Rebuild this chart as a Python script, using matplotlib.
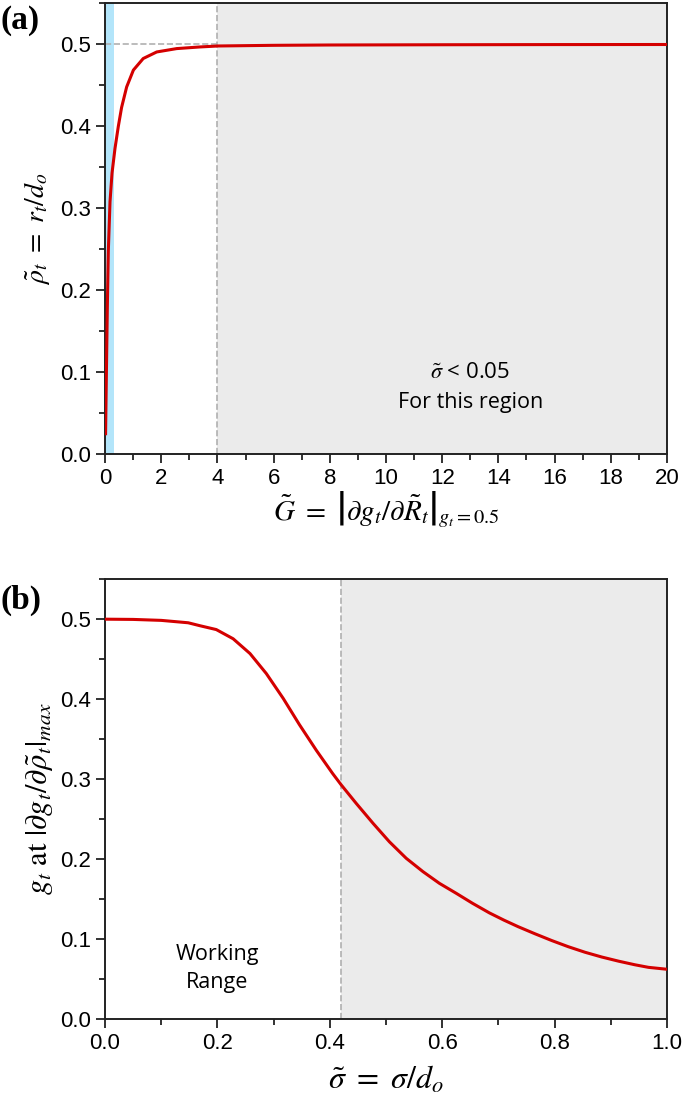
import matplotlib
matplotlib.use('Agg')
import matplotlib.pyplot as plt
from matplotlib.ticker import MultipleLocator, FormatStrFormatter

# panel (a): rho_t vs G
G = [0.02, 0.04, 0.06, 0.083, 0.118, 0.178, 0.25, 0.355, 0.474, 0.59, 0.77, 1.01, 1.36, 1.84,
     2.55, 3.37, 4.03, 6.0, 8.0, 12.0, 16.0, 20.0]
rho = [0.025, 0.075, 0.125, 0.18, 0.248, 0.308, 0.343, 0.373, 0.400, 0.423, 0.448, 0.4686, 0.4827, 0.4907,
       0.4948, 0.4968, 0.498, 0.4988, 0.4992, 0.4995, 0.4997, 0.4998]

# panel (b): g_t at max slope vs sigma
sigma = [0.0, 0.05, 0.10, 0.148, 0.169, 0.198, 0.228, 0.258, 0.287, 0.317, 0.346, 0.376, 0.405, 0.42,
         0.447, 0.477, 0.506, 0.536, 0.566, 0.595, 0.625, 0.654, 0.684, 0.71, 0.735, 0.765, 0.795,
         0.824, 0.854, 0.884, 0.914, 0.943, 0.967, 1.0]
gt = [0.5, 0.4997, 0.4985, 0.4955, 0.4918, 0.487, 0.4755, 0.457, 0.432, 0.401, 0.368, 0.336, 0.307, 0.293,
      0.2696, 0.2446, 0.2216, 0.2009, 0.1841, 0.1696, 0.1571, 0.1446, 0.1326, 0.1235, 0.1154, 0.1065, 0.098,
      0.0904, 0.0834, 0.0774, 0.0722, 0.0677, 0.0645, 0.0621]

plt.rcParams['font.family'] = ['Liberation Sans', 'DejaVu Sans']
plt.rcParams['mathtext.fontset'] = 'stix'

red = '#d40000'
grey = '#ebebeb'
dash = '#b0b0b0'

fig = plt.figure(figsize=(6.85, 11.16), dpi=100)
ax1 = fig.add_axes([0.1533, 0.593, 0.8204, 0.404])
ax2 = fig.add_axes([0.1533, 0.087, 0.8204, 0.394])

# ---- (a)
ax1.axvspan(4, 20, color=grey, zorder=0, lw=0)
ax1.axvspan(0, 0.33, color='#b3e5fa', zorder=0, lw=0)
ax1.plot([0, 4], [0.5, 0.5], '--', color=dash, lw=1.2, zorder=1)
ax1.axvline(4, ls='--', color=dash, lw=1.2, zorder=1)
ax1.plot(G, rho, color=red, lw=2.2, zorder=3)
ax1.set_xlim(0, 20)
ax1.set_ylim(0, 0.55)
ax1.xaxis.set_major_locator(MultipleLocator(2))
ax1.xaxis.set_minor_locator(MultipleLocator(1))
ax1.xaxis.set_major_formatter(FormatStrFormatter('%d'))
ax1.set_xlabel(r'$\tilde{G}\ =\ \left|\partial g_t/\partial \tilde{R}_t\right|_{g_t=0.5}$', fontsize=21, labelpad=0)
ax1.set_ylabel(r'$\tilde{\rho}_t\ =\ r_t/d_o$', fontsize=20, labelpad=6)
ax1.text(13, 0.1, r'$\tilde{\sigma}$ < 0.05', fontsize=16, ha='center', va='center', family='Open Sans')
ax1.text(13, 0.063, 'For this region', fontsize=15.5, ha='center', va='center', family='Open Sans')

# ---- (b)
ax2.axvspan(0.42, 1.0, color=grey, zorder=0, lw=0)
ax2.axvline(0.42, ls='--', color=dash, lw=1.2, zorder=1)
ax2.plot(sigma, gt, color=red, lw=2.2, zorder=3)
ax2.set_xlim(0, 1)
ax2.set_ylim(0, 0.55)
ax2.xaxis.set_major_locator(MultipleLocator(0.2))
ax2.xaxis.set_minor_locator(MultipleLocator(0.1))
ax2.xaxis.set_major_formatter(FormatStrFormatter('%.1f'))
ax2.set_xlabel(r'$\tilde{\sigma}\ =\ \sigma/d_o$', fontsize=23, labelpad=8)
ax2.set_ylabel(r'$g_t\ \mathrm{at}\ |\partial g_t/\partial\tilde{\rho}_t|_{max}$', fontsize=22, labelpad=4)
ax2.text(0.2, 0.08, 'Working', fontsize=15.5, ha='center', va='center', family='Open Sans')
ax2.text(0.2, 0.045, 'Range', fontsize=15.5, ha='center', va='center', family='Open Sans')

for ax in (ax1, ax2):
    ax.yaxis.set_major_locator(MultipleLocator(0.1))
    ax.yaxis.set_minor_locator(MultipleLocator(0.05))
    ax.yaxis.set_major_formatter(FormatStrFormatter('%.1f'))
    ax.tick_params(which='both', direction='out', labelsize=16, width=1.3, color='#222222')
    ax.tick_params(which='major', length=6.5)
    ax.tick_params(which='minor', length=4)
    for s in ax.spines.values():
        s.set_linewidth(1.4)
        s.set_color('#222222')

fig.text(0.0, 0.982, '(a)', fontsize=24, fontweight='bold', family='Liberation Serif', va='center')
fig.text(0.0, 0.462, '(b)', fontsize=24, fontweight='bold', family='Liberation Serif', va='center')

fig.savefig('out.png', dpi=100)
